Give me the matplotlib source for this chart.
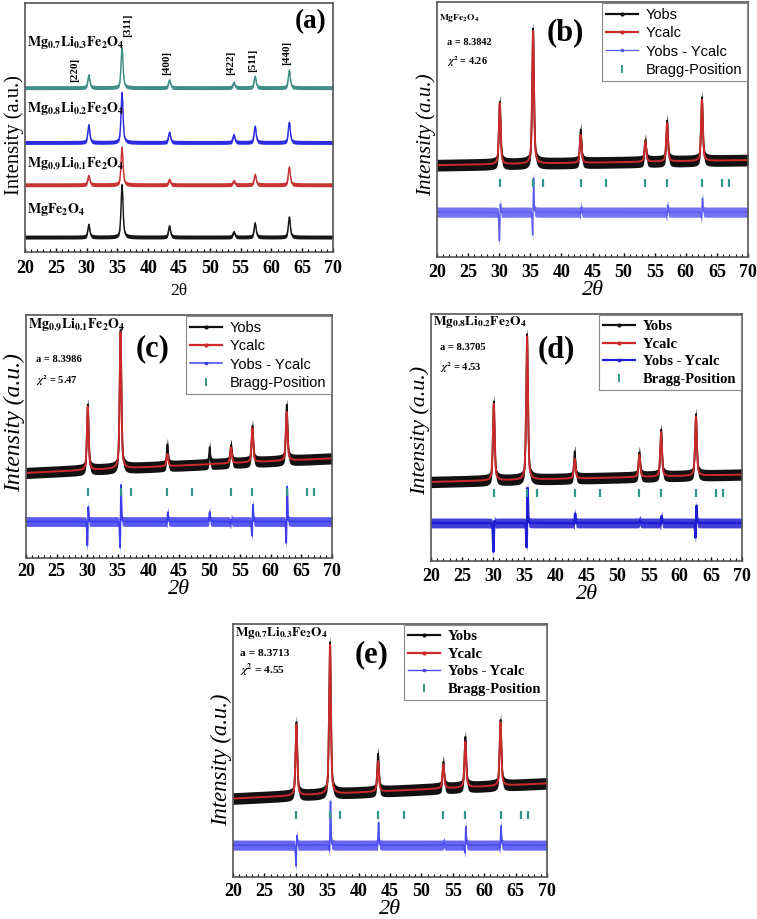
import numpy as np
import matplotlib.pyplot as plt
from matplotlib.lines import Line2D
from matplotlib.ticker import MultipleLocator

plt.rcParams['font.family'] = 'Liberation Serif'
plt.rcParams['font.weight'] = 'bold'
plt.rcParams['mathtext.fontset'] = 'stix'

W, H = 757, 919

# ---- data ----
hkl = ['[220]', '[311]', '[400]', '[422]', '[511]', '[440]']
pos_a = [30.35, 35.75, 43.45, 53.9, 57.35, 62.9]
pos = [30.1, 35.45, 43.1, 53.5, 57.0, 62.6]
bragg = [30.1, 35.45, 37.1, 43.1, 47.2, 53.5, 57.0, 62.6, 65.9, 67.0]

# panel (a): stacked patterns, bottom to top
a_names = [r'$\mathbf{MgFe_2O_4}$',
           r'$\mathbf{Mg_{0.9}Li_{0.1}Fe_2O_4}$',
           r'$\mathbf{Mg_{0.8}Li_{0.2}Fe_2O_4}$',
           r'$\mathbf{Mg_{0.7}Li_{0.3}Fe_2O_4}$']
a_offsets = [6, 27, 44, 66]
a_heights = [[5, 21, 4.4, 2, 5.6, 8],
             [3.6, 15, 2, 1.5, 4, 7],
             [7, 20, 4, 3, 6.4, 8],
             [5, 16, 3, 2, 4.4, 7]]
a_colors = ['#151515', '#c83434', '#2b2be0', '#3f8f86']
a_name_y = [16.9, 35.7, 57.8, 84.3]
a_hkl_x = [28.1, 36.7, 43.0, 53.3, 57.0, 62.5]
a_hkl_y = [73, 91, 76, 76, 77, 80]

# refinement panels (b)-(e)
labels = ['(b)', '(c)', '(d)', '(e)']
formulas = [r'$\mathbf{MgFe_2O_4}$',
            r'$\mathbf{Mg_{0.9}Li_{0.1}Fe_2O_4}$',
            r'$\mathbf{Mg_{0.8}Li_{0.2}Fe_2O_4}$',
            r'$\mathbf{Mg_{0.7}Li_{0.3}Fe_2O_4}$']
lattice = ['8.3842', '8.3986', '8.3705', '8.3713']
chi2 = ['4.26', '5.47', '4.53', '4.55']
base_start = [36, 35, 32, 31]
base_end = [38, 41, 35, 37]
calc_h = [[24, 52, 11, 8, 15, 24],
          [26, 56, 5, 6.5, 14, 20],
          [31, 58, 8, 9, 18, 24],
          [28, 59, 12, 9.5, 18, 25]]
obs_extra = [[0.5, 1, 2, 0.5, 1, 1],
             [1, 1, 4, 1, 1, 3],
             [1, 1, 3, 1, 1, 1],
             [1, 1, 3, 1, 2, 1]]
diff_base = [17.6, 15, 15.4, 12.6]
diff_up = [[4.7, 15, 2, 0, 3, 6],
           [7.5, 17, 4, 1, 8, 16],
           [2, 16, 4, 1, 3, 8],
           [5, 18, 9, 1, 8, 8]]
diff_down = [[12, 11, 1, 0, 2, 3],
             [11, 13, 1, 1, 7, 11],
             [12, 12, 1, 0, 1, 7],
             [9, 4, 1, 0, 4, 2]]
bragg_y = [29, 27, 27.5, 24.5]
blues = ['#5a5af2', '#3c3cf0', '#1e1ed2', '#4c4cf0']
diff_lw = [0.6, 0.8, 1.3, 0.7]

# layout in pixels: left, right, top, bottom
rects = {'a': (25, 333, 3, 252), 'b': (437, 748, 2, 257),
         'c': (26, 332, 315, 558), 'd': (431, 742, 314, 561),
         'e': (233, 547, 624, 877)}
lab_xy = [(40.6, 88), (40.6, 86), (40.2, 85.4), (42.1, 87.7)]
form_y = [93.7, 95.9, 96.8, 96.4]
form_size = [6.8, 10, 9.6, 9.5]
a_x = [21.6, 21.6, 21.4, 21.1]
a_y = [84, 81.5, 86.6, 88.5]
c_y = [76.5, 73, 78.5, 81.8]
info_size = [7.4, 7.6, 7.6, 8.2]
ylab_size = [15, 17, 15.8, 16.3]
ylab_y = [0.478, 0.556, 0.53, 0.463]
tick_pad = [5, 3.5, 5, 4]
xlab_pad = [0, 0, 0, 0]
legend_sans = [True, True, False, False]

RED = '#cc2a2a'
TEAL = '#35968a'

x = np.linspace(20, 70, 3001)


def pv(c, h, w=0.34, eta=0.55):
    g = np.exp(-4 * np.log(2) * ((x - c) / w) ** 2)
    l = 1 / (1 + 4 * ((x - c) / w) ** 2)
    return h * (eta * l + (1 - eta) * g)


def make_ax(fig, key, pad):
    l, r, t, b = rects[key]
    ax = fig.add_axes([l / W, 1 - b / H, (r - l) / W, (b - t) / H])
    ax.set_xlim(20, 70)
    ax.set_ylim(0, 100)
    ax.set_yticks([])
    ax.xaxis.set_major_locator(MultipleLocator(5))
    ax.xaxis.set_minor_locator(MultipleLocator(1))
    ax.tick_params(axis='x', which='major', direction='in', length=3, width=1,
                   labelsize=13, pad=pad)
    ax.tick_params(axis='x', which='minor', direction='in', length=2, width=0.8)
    for s in ax.spines.values():
        s.set_color('#555555')
        s.set_linewidth(1.2)
    return ax


fig = plt.figure(figsize=(W / 100, H / 100), dpi=100)

# ---- (a) ----
ax = make_ax(fig, 'a', 6)
for off, hs, col, name, ny in zip(a_offsets, a_heights, a_colors, a_names, a_name_y):
    y = off + sum(pv(c, h, 0.38) for c, h in zip(pos_a, hs))
    ax.fill_between(x, y - 0.8, y + 0.8, color=col, lw=0)
    ax.plot(x, y, color=col, lw=1)
    ax.text(20.3, ny, name, fontsize=10, va='center', ha='left')
for lx, ly, t in zip(a_hkl_x, a_hkl_y, hkl):
    ax.text(lx, ly, t, rotation=90, fontsize=8, ha='center', va='center')
ax.text(66.3, 92.4, '(a)', fontsize=19.5, ha='center', va='center')
ax.set_xlabel('2θ', fontsize=12.5, labelpad=4)
ax.set_ylabel('Intensity (a.u.)', fontsize=14.8, labelpad=1, y=0.47)

# ---- (b)-(e) ----
for i, key in enumerate(['b', 'c', 'd', 'e']):
    ax = make_ax(fig, key, tick_pad[i])
    base = base_start[i] + (base_end[i] - base_start[i]) * (x - 20) / 50
    calc = base + sum(pv(c, h) for c, h in zip(pos, calc_h[i]))
    obs = calc + sum(pv(c, h, 0.22) for c, h in zip(pos, obs_extra[i]))
    if key == 'c':
        obs = obs + pv(50.0, 7, 0.22)
    ax.fill_between(x, obs - 2.3, obs + 2.3, color='#111111', lw=0)
    ax.plot(x, obs, color='#111111', lw=1.2)
    ax.plot(x, calc, color=RED, lw=1.4)

    diff = diff_base[i] + sum(pv(c + 0.07, u, 0.16, 0.3) - pv(c - 0.07, d, 0.16, 0.3)
                              for c, u, d in zip(pos, diff_up[i], diff_down[i]))
    if key == 'c':
        diff = diff + pv(50.0, 4, 0.16, 0.3)
    ax.fill_between(x, diff - 2.0, diff + 2.0, color=blues[i], lw=0, alpha=0.85)
    ax.plot(x, diff, color=blues[i], lw=diff_lw[i] + 0.4)

    ax.plot(bragg, [bragg_y[i]] * len(bragg), ls='none', marker='|', ms=6,
            mew=1.6, color=TEAL)

    ax.text(lab_xy[i][0], lab_xy[i][1], labels[i], fontsize=22, ha='center', va='center')
    ax.text(20.3, form_y[i], formulas[i], fontsize=form_size[i], ha='left', va='center')
    ax.text(a_x[i], a_y[i], 'a = ' + lattice[i], fontsize=info_size[i], ha='left',
            va='center')
    ax.text(a_x[i], c_y[i], r'$\chi^{\mathbf{2}}$ = ' + chi2[i], fontsize=info_size[i],
            ha='left', va='center')

    ax.set_xlabel('2θ', fontsize=16, fontstyle='italic', labelpad=xlab_pad[i])
    ax.set_ylabel('Intensity (a.u.)', fontsize=ylab_size[i], fontstyle='italic',
                  labelpad=1, y=ylab_y[i])

    handles = [Line2D([], [], color='#111111', lw=1.6, marker='o', ms=2),
               Line2D([], [], color=RED, lw=1.6, marker='o', ms=2),
               Line2D([], [], color=blues[i], lw=diff_lw[i] + 0.3, marker='s', ms=2),
               Line2D([], [], color=TEAL, lw=0, marker='|', ms=6, mew=1.4)]
    names = ['Yobs', 'Ycalc', 'Yobs - Ycalc', 'Bragg-Position']
    if legend_sans[i]:
        prop = {'family': 'Liberation Sans', 'weight': 'normal', 'size': 10.5}
    else:
        prop = {'family': 'Liberation Serif', 'weight': 'bold', 'size': 10.5}
    leg = ax.legend(handles, names, loc='upper right', prop=prop, fancybox=False,
                    framealpha=1, edgecolor='#888888', labelspacing=0.3,
                    borderpad=0.3, handlelength=2.2, handletextpad=0.5,
                    borderaxespad=0.1)
    leg.get_frame().set_linewidth(0.8)

fig.savefig('out.png', dpi=100, facecolor='white')
